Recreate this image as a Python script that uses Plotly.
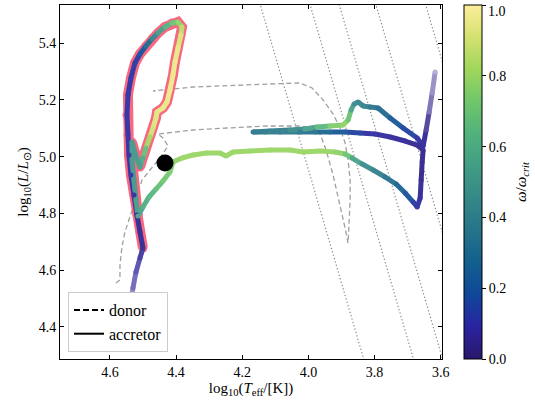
import math
import plotly.graph_objects as go
from plotly.colors import get_colorscale, sample_colorscale, unlabel_rgb

# ---------------- data ----------------
# donor track (log Teff, log L)
donor_logT = [4.5818, 4.5697, 4.5697, 4.5637, 4.5546, 4.5395, 4.5244, 4.5032, 4.4790, 4.4487,
              4.4245, 4.4396, 4.4548, 4.3489, 4.2460, 4.1250, 4.0251, 3.9828, 3.9646, 3.9464,
              3.9253, 3.9041, 3.8890, 3.8799, 3.8768, 3.8738, 3.8738, 3.8799, 3.8890, 3.9041,
              3.9253, 3.9555, 3.9888, 4.0251, 4.1159, 4.1855, 4.3489, 4.4699]
donor_logL = [4.5539, 4.5645, 4.6174, 4.6810, 4.7339, 4.7869, 4.8469, 4.9175, 4.9528, 4.9951,
              5.0375, 5.0657, 5.0798, 5.0940, 5.1010, 5.1081, 5.1081, 5.1010, 5.0798, 5.0234,
              4.9351, 4.8292, 4.7480, 4.6951, 4.7586, 4.8469, 4.9175, 4.9881, 5.0481, 5.1010,
              5.1504, 5.1999, 5.2422, 5.2599, 5.2563, 5.2528, 5.2457, 5.2316]

# accretor track (log Teff, log L, omega/omega_crit, opacity)
acc_logT = [4.5486, 4.5455, 4.5395, 4.5304, 4.5213, 4.5092, 4.5002, 4.5092, 4.5183, 4.5274,
            4.5365, 4.5425, 4.5455, 4.5486, 4.5455, 4.5365, 4.5244, 4.5092, 4.4911, 4.4729,
            4.4548, 4.4336, 4.4124, 4.3943, 4.3821, 4.3852, 4.3943, 4.4033, 4.4094, 4.4185,
            4.4275, 4.4396, 4.4578, 4.4608, 4.4699, 4.4790, 4.4911, 4.5002, 4.5092, 4.5213,
            4.5334, 4.5334, 4.5274, 4.5213, 4.5153, 4.5002, 4.4820, 4.4608, 4.4396, 4.4185,
            4.4094, 4.3821, 4.3489, 4.3065, 4.2672, 4.2490, 4.2278, 4.1764, 4.1159, 4.0554,
            4.0160, 3.9646, 3.9192, 3.8890, 3.8678, 3.8375, 3.8042, 3.7679, 3.7347, 3.7074,
            3.6832, 3.6711, 3.6620, 3.6590, 3.6560, 3.6530, 3.6711, 3.7074, 3.7528, 3.7982,
            3.8436, 3.8890, 3.9343, 3.9797, 4.0251, 4.0856, 4.1310, 4.1673, 4.1159, 4.0554,
            4.0100, 3.9737, 3.9343, 3.8950, 3.8799, 3.8708, 3.8617, 3.8496, 3.8345, 3.8133,
            3.7891, 3.7528, 3.7135, 3.6711, 3.6530, 3.6439, 3.6348, 3.6257, 3.6167]
acc_logL = [4.3350, 4.4056, 4.4762, 4.5362, 4.5927, 4.6421, 4.6774, 4.7339, 4.7939, 4.8645,
            4.9351, 5.0057, 5.0763, 5.1469, 5.2175, 5.2775, 5.3305, 5.3622, 5.3905, 5.4152,
            5.4364, 5.4575, 5.4717, 5.4752, 5.4575, 5.4293, 5.3834, 5.3340, 5.2881, 5.2352,
            5.1928, 5.1716, 5.1575, 5.1363, 5.1010, 5.0693, 5.0304, 4.9951, 4.9634, 5.0022,
            5.0516, 4.9881, 4.9175, 4.8469, 4.7904, 4.8222, 4.8575, 4.8857, 4.9139, 4.9457,
            4.9810, 4.9951, 5.0057, 5.0128, 5.0128, 5.0022, 5.0163, 5.0198, 5.0234, 5.0234,
            5.0163, 5.0198, 5.0163, 5.0092, 4.9951, 4.9739, 4.9528, 4.9281, 4.9033, 4.8716,
            4.8398, 4.8222, 4.8539, 4.9175, 4.9810, 5.0234, 5.0410, 5.0551, 5.0693, 5.0798,
            5.0834, 5.0869, 5.0869, 5.0869, 5.0869, 5.0869, 5.0869, 5.0869, 5.0904, 5.0940,
            5.0975, 5.1045, 5.1081, 5.1116, 5.1293, 5.1646, 5.1857, 5.1928, 5.1787, 5.1751,
            5.1716, 5.1363, 5.1010, 5.0657, 5.0375, 5.0940, 5.1575, 5.2246, 5.2987]
acc_omega = [0.08, 0.08, 0.08, 0.08, 0.08, 0.07, 0.06, 0.06, 0.07, 0.08,
             0.09, 0.09, 0.10, 0.10, 0.10, 0.11, 0.13, 0.18, 0.28, 0.40,
             0.52, 0.62, 0.70, 0.78, 0.86, 0.92, 0.95, 0.96, 0.96, 0.96,
             0.95, 0.95, 0.94, 0.93, 0.90, 0.82, 0.68, 0.58, 0.52, 0.50,
             0.50, 0.50, 0.50, 0.52, 0.55, 0.60, 0.64, 0.68, 0.72, 0.75,
             0.78, 0.80, 0.80, 0.80, 0.80, 0.80, 0.80, 0.80, 0.80, 0.80,
             0.80, 0.80, 0.78, 0.70, 0.55, 0.45, 0.40, 0.33, 0.27, 0.20,
             0.13, 0.10, 0.07, 0.05, 0.05, 0.05, 0.06, 0.07, 0.08, 0.10,
             0.15, 0.22, 0.28, 0.33, 0.36, 0.38, 0.37, 0.36, 0.38, 0.45,
             0.55, 0.65, 0.75, 0.78, 0.70, 0.55, 0.45, 0.42, 0.40, 0.35,
             0.30, 0.22, 0.15, 0.10, 0.07, 0.05, 0.05, 0.05, 0.05]
acc_alpha = [0.15, 0.30, 0.50, 0.65, 0.75, 0.85] + [0.92] * 99 + [0.80, 0.60, 0.48, 0.35]

halo_start, halo_end = 6, 45          # mass-transfer phase (highlighted)

dot_logT = [4.4336]
dot_logL = [4.9775]

iso_radius = [100, 200, 300, 500, 1000]   # R / Rsun lines
iso_logT_span = [3.50, 4.30]
LOG_TSUN = math.log10(5772.0)

x_ticks = [4.6, 4.4, 4.2, 4.0, 3.8, 3.6]
y_ticks = [4.4, 4.6, 4.8, 5.0, 5.2, 5.4]
cb_ticks = [0.0, 0.2, 0.4, 0.6, 0.8, 1.0]

# ---------------- figure ----------------
FONT = "Liberation Serif"
cs = get_colorscale("haline")


def col(v, a):
    r, g, b = unlabel_rgb(sample_colorscale(cs, [v])[0])
    r = a * r + (1 - a) * 255
    g = a * g + (1 - a) * 255
    b = a * b + (1 - a) * 255
    return f"rgb({r:.0f},{g:.0f},{b:.0f})"


fig = go.Figure()

# constant-radius dotted lines
for R in iso_radius:
    ys = [2 * math.log10(R) + 4 * (t - LOG_TSUN) for t in iso_logT_span]
    fig.add_trace(go.Scatter(x=iso_logT_span, y=ys, mode="lines", showlegend=False,
                             hoverinfo="skip",
                             line=dict(color="#8c8c8c", width=1.2, dash="1.3px,2.2px")))

# donor
fig.add_trace(go.Scatter(x=donor_logT, y=donor_logL, mode="lines", showlegend=False,
                         hoverinfo="skip",
                         line=dict(color="#a0a0a0", width=1.3, dash="5px,3px")))

# halo for highlighted phase
fig.add_trace(go.Scatter(x=acc_logT[halo_start:halo_end], y=acc_logL[halo_start:halo_end],
                         mode="lines+markers", showlegend=False, hoverinfo="skip",
                         line=dict(color="#f8687f", width=10),
                         marker=dict(color="#f8687f", size=9)))

# accretor coloured track
cols = [col(w, a) for w, a in zip(acc_omega, acc_alpha)]
for i in range(len(acc_logT) - 1):
    fig.add_trace(go.Scatter(x=acc_logT[i:i + 2], y=acc_logL[i:i + 2], mode="lines",
                             showlegend=False, hoverinfo="skip",
                             line=dict(color=cols[i], width=5)))
fig.add_trace(go.Scatter(x=acc_logT, y=acc_logL, mode="markers", showlegend=False,
                         hoverinfo="skip", marker=dict(color=cols, size=5, line=dict(width=0))))

# black dot
fig.add_trace(go.Scatter(x=dot_logT, y=dot_logL, mode="markers", showlegend=False,
                         hoverinfo="skip", marker=dict(color="black", size=17)))

# legend entries
fig.add_trace(go.Scatter(x=[None], y=[None], mode="lines", name="donor",
                         line=dict(color="black", width=2, dash="6px,3px")))
fig.add_trace(go.Scatter(x=[None], y=[None], mode="lines", name="accretor",
                         line=dict(color="black", width=2)))

# colorbar (top label drawn separately so it is not clipped by the page edge)
cb_text = [f"{v:.1f}" for v in cb_ticks]
fig.add_trace(go.Scatter(x=[4.0], y=[7.0], mode="markers", showlegend=False, hoverinfo="skip",
                         marker=dict(color=[0.5], colorscale="haline", cmin=0, cmax=1, size=1,
                                     showscale=True,
                                     colorbar=dict(
                                         x=(464 - 60) / 382, xanchor="left", y=0.5,
                                         yanchor="middle", len=1, lenmode="fraction",
                                         thickness=18, xpad=0, ypad=0,
                                         outlinecolor="black", outlinewidth=1,
                                         ticks="outside", ticklen=4, tickcolor="black",
                                         tickvals=cb_ticks,
                                         ticktext=cb_text[:-1] + [""],
                                         tickfont=dict(family=FONT, size=14, color="black")))))

fig.add_annotation(text=cb_text[-1], xref="paper", yref="paper",
                   x=(486 - 60) / 382, y=1.0, xanchor="left", yanchor="top", yshift=3,
                   showarrow=False, font=dict(family=FONT, size=14, color="black"))

fig.add_annotation(text="<i>ω</i>/<i>ω</i><sub><i>crit</i></sub>", textangle=-90,
                   xref="paper", yref="paper", x=(522 - 60) / 382, y=0.5,
                   xanchor="center", yanchor="middle", showarrow=False,
                   font=dict(family=FONT, size=15, color="black"))

axis_common = dict(showgrid=False, zeroline=False, showline=True, linecolor="black",
                   linewidth=1, mirror="allticks", ticks="inside", ticklen=4,
                   tickcolor="black", tickfont=dict(family=FONT, size=14, color="black"))

fig.update_layout(
    width=535, height=406,
    margin=dict(l=60, r=93, t=5, b=47),
    paper_bgcolor="white", plot_bgcolor="white",
    font=dict(family=FONT, color="black"),
    xaxis=dict(range=[4.751, 3.596], tickvals=x_ticks,
               ticktext=[f"{v:.1f}" for v in x_ticks],
               title=dict(text="log<sub>10</sub>(<i>T</i><sub>eff</sub>/[K])",
                          font=dict(family=FONT, size=15), standoff=3),
               **axis_common),
    yaxis=dict(range=[4.286, 5.535], tickvals=y_ticks,
               ticktext=[f"{v:.1f}" for v in y_ticks],
               title=dict(text="log<sub>10</sub>(<i>L</i>/<i>L</i><sub>⊙</sub>)",
                          font=dict(family=FONT, size=15), standoff=6),
               **axis_common),
    legend=dict(x=(68 - 60) / 382, y=(359 - 352) / 354, xanchor="left", yanchor="bottom",
                bgcolor="white", bordercolor="#cccccc", borderwidth=1,
                font=dict(family=FONT, size=16, color="black"), tracegroupgap=0),
    showlegend=True,
)

fig.write_html("out.html")
